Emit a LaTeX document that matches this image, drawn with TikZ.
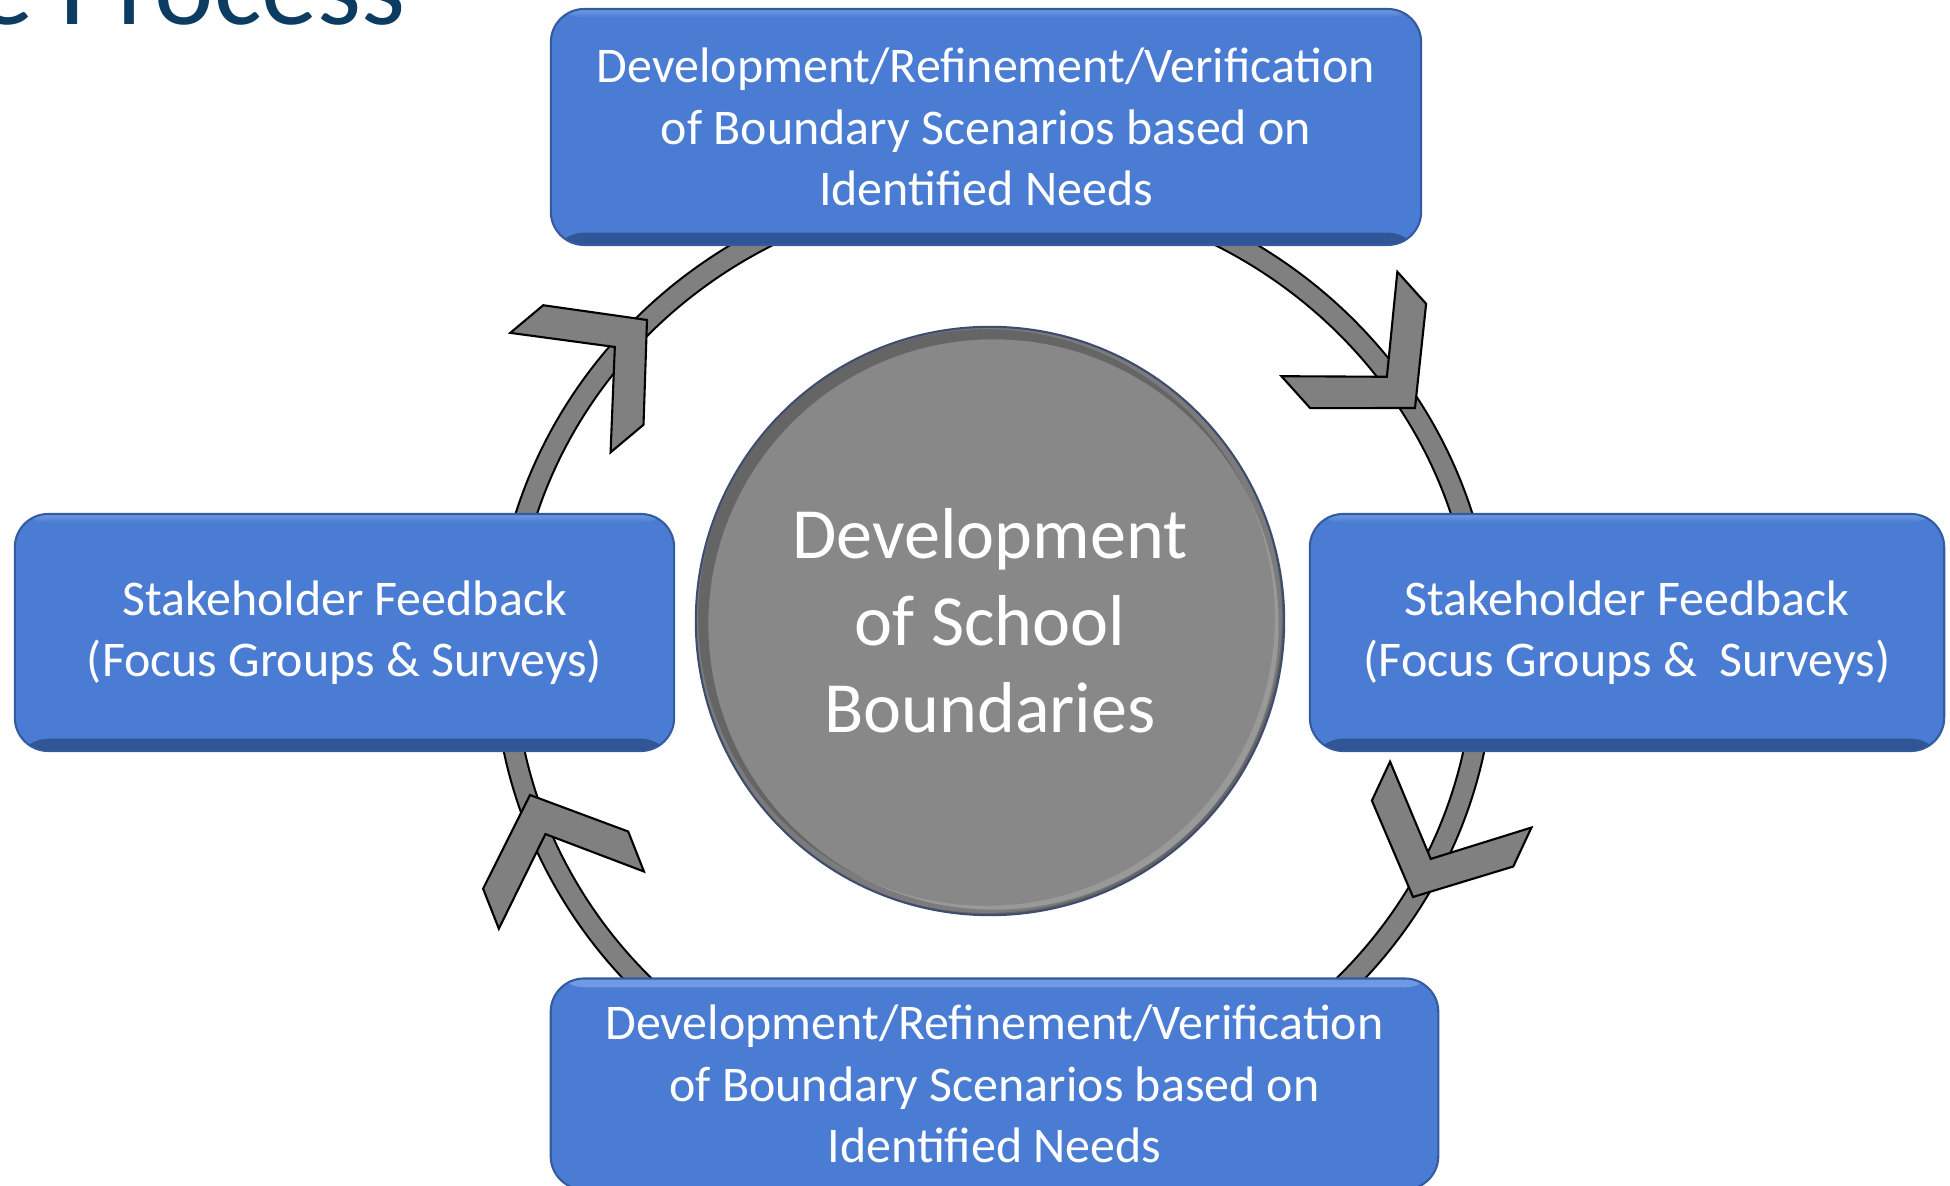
\documentclass[tikz,border=0pt]{standalone}
\usepackage{fontspec}
\setmainfont{Carlito}
\usepackage{tikz}
\usetikzlibrary{shapes}

\begin{document}
\begin{tikzpicture}[x=0.01cm, y=-0.01cm, thick]

  % Define Colors
  \definecolor{boxblue}{RGB}{74,124,211}
  \definecolor{boxdark}{RGB}{48,84,148}
  \definecolor{boxlight}{RGB}{112,154,228}
  \definecolor{boxedge}{RGB}{52,90,160}
  \definecolor{hubgray}{RGB}{136,136,136}
  \definecolor{hubedge}{RGB}{62,76,110}
  \definecolor{ringgray}{RGB}{128,128,128}
  \definecolor{titleblue}{RGB}{12,60,98}

  % Node styles
  \tikzstyle{bbox}=[rectangle, rounded corners=9.5pt, draw=boxedge, line width=0.6pt, fill=boxblue, text=white, align=center, inner sep=0pt, font=\fontsize{14.2}{17.5}\selectfont,
    path picture={
      \fill[top color=boxblue, bottom color=boxdark] ([yshift=3.5pt]path picture bounding box.south west) rectangle (path picture bounding box.south east);
      \fill[top color=boxlight, bottom color=boxblue] (path picture bounding box.north west) rectangle ([yshift=-2.5pt]path picture bounding box.north east);
    }]
  \tikzstyle{bbox_cut}=[rectangle, rounded corners=9.5pt, draw=boxedge, line width=0.6pt, fill=boxblue, text=white, align=center, inner sep=0pt, font=\fontsize{14.2}{17.5}\selectfont,
    path picture={
      \fill[top color=boxlight, bottom color=boxblue] (path picture bounding box.north west) rectangle ([yshift=-2.5pt]path picture bounding box.north east);
    }]
  \tikzstyle{hub}=[circle, minimum size=167.3pt, inner sep=0pt, fill=hubgray, draw=hubedge, line width=0.6pt, text=white, align=center, font=\fontsize{20.5}{24.8}\selectfont,
    path picture={
      \draw[black, opacity=0.25, line width=5pt] ([xshift=1pt, yshift=-1pt]path picture bounding box.center) circle (83.6pt);
      \draw[white, opacity=0.15, line width=2pt] ([xshift=-1pt, yshift=1pt]path picture bounding box.center) circle (83pt);
    }]
  \tikzstyle{title}=[text=titleblue, inner sep=0pt, font=\fontsize{32}{38}\selectfont]

  \tikzstyle{ring_out}=[draw=black, line width=6.4pt]
  \tikzstyle{ring_in}=[draw=ringgray, line width=5.2pt]
  \tikzstyle{chev}=[fill=ringgray, draw=black, line width=0.6pt, line join=miter]

  \useasboundingbox[fill=white] (0,0) rectangle (1950,1186);

  % Title (cut at the top)
  \node[title, anchor=base east] (title) at (407,25) {e Process};

  % Cycle ring
  \coordinate (ring_c) at (994,655);
  \draw[ring_out] (ring_c) ellipse [x radius=490, y radius=472];
  \draw[ring_in] (ring_c) ellipse [x radius=490, y radius=472];

  % Arrow heads on the ring
  \draw[chev, shift={(647,320)}, rotate=40] (0,0) -- (-70,78) -- (-113,78) -- (-42,0) -- (-113,-78) -- (-70,-78) -- cycle;
  \draw[chev, shift={(1415,408)}, rotate=-48] (0,0) -- (-70,78) -- (-113,78) -- (-42,0) -- (-113,-78) -- (-70,-78) -- cycle;
  \draw[chev, shift={(1413,897)}, rotate=-115] (0,0) -- (-70,78) -- (-113,78) -- (-42,0) -- (-113,-78) -- (-70,-78) -- cycle;
  \draw[chev, shift={(530,795)}, rotate=111.5] (0,0) -- (-70,78) -- (-113,78) -- (-42,0) -- (-113,-78) -- (-70,-78) -- cycle;

  % Nodes
  \node[bbox, minimum width=247.5pt, minimum height=67.1pt] (n_top) at (986,127) {Development/Refinement/Verification\\of Boundary Scenarios based on\\Identified Needs};
  \node[bbox, minimum width=187.5pt, minimum height=67.4pt] (n_left) at (344.5,632.5) {Stakeholder Feedback\\(Focus Groups \& Surveys)};
  \node[bbox, minimum width=180.4pt, minimum height=67.4pt] (n_right) at (1627,632.5) {Stakeholder Feedback\\(Focus Groups \&\ \ Surveys)};
  \node[bbox_cut, minimum width=252.4pt, minimum height=60pt] (n_bottom) at (994.5,1084) {Development/Refinement/Verification\\of Boundary Scenarios based on\\Identified Needs};

  \node[hub] (n_hub) at (990,621) {Development\\of School\\Boundaries};

\end{tikzpicture}
\end{document}
